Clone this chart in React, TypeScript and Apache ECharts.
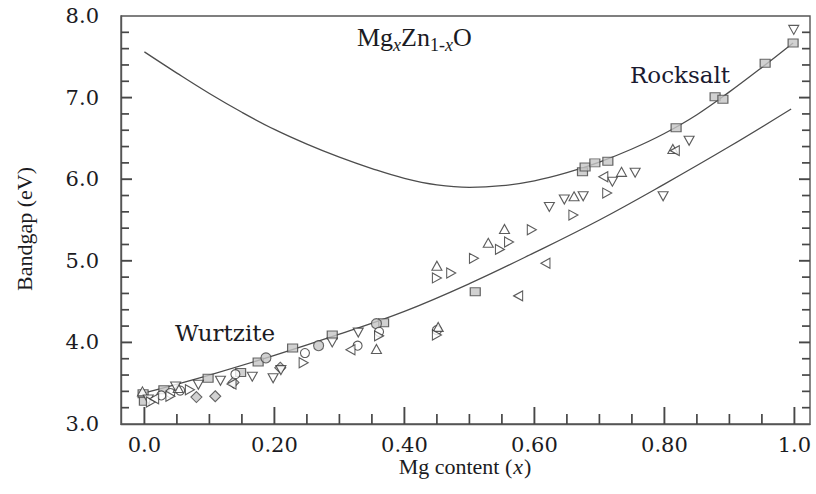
import React, { useEffect, useRef } from 'react';
import * as echarts from 'echarts';

// ---- axis ticks / labels ----
const xMajorTicks = [0, 0.2, 0.4, 0.6, 0.8, 1.0];
const xTickLabels = ['0.0', '0.20', '0.40', '0.60', '0.80', '1.0'];
const xMinorTicks = [0.05, 0.1, 0.15, 0.25, 0.3, 0.35, 0.45, 0.5, 0.55, 0.65, 0.7, 0.75, 0.85, 0.9, 0.95];
const yMajorTicks = [4, 5, 6, 7];
const yMinorTicks = [3.2, 3.4, 3.6, 3.8, 4.2, 4.4, 4.6, 4.8, 5.2, 5.4, 5.6, 5.8, 6.2, 6.4, 6.6, 6.8, 7.2, 7.4, 7.6, 7.8];
const yTickLabels = ['3.0', '4.0', '5.0', '6.0', '7.0', '8.0'];

// ---- fitted curves ----
const rocksaltCurve: [number, number][] = [
  [0, 7.56], [0.05, 7.3], [0.1, 7.05], [0.15, 6.82], [0.2, 6.61], [0.25, 6.43], [0.3, 6.27],
  [0.35, 6.13], [0.4, 6.01], [0.45, 5.93], [0.5, 5.9], [0.55, 5.92], [0.6, 5.98], [0.65, 6.08],
  [0.7, 6.21], [0.75, 6.37], [0.8, 6.56], [0.85, 6.79], [0.9, 7.07], [0.95, 7.37], [0.998, 7.67],
];
const wurtziteCurve: [number, number][] = [
  [0, 3.38], [0.1, 3.6], [0.2, 3.84], [0.3, 4.1], [0.4, 4.38], [0.5, 4.72], [0.6, 5.1],
  [0.7, 5.5], [0.8, 5.94], [0.9, 6.4], [0.995, 6.86],
];

// ---- measured points ----
const graySquares: [number, number][] = [
  [0.674, 6.09], [0.678, 6.15], [0.693, 6.2], [0.713, 6.22], [0.818, 6.63], [0.878, 7.01],
  [0.89, 6.98], [0.955, 7.42], [0.998, 7.67],
  [-0.002, 3.37], [0.0, 3.28], [0.03, 3.42], [0.098, 3.56], [0.148, 3.63], [0.175, 3.76],
  [0.228, 3.93], [0.289, 4.09], [0.368, 4.24], [0.509, 4.62],
];
const grayDiamonds: [number, number][] = [
  [0.08, 3.33], [0.109, 3.34], [0.137, 3.51], [0.209, 3.69],
];
const grayCircles: [number, number][] = [
  [0.187, 3.81], [0.268, 3.96], [0.357, 4.23],
];
const openCircles: [number, number][] = [
  [0.026, 3.35], [0.04, 3.38], [0.055, 3.41], [0.14, 3.61], [0.247, 3.87], [0.328, 3.96],
  [0.361, 4.13], [0.45, 4.15],
];
const triUp: [number, number][] = [
  [-0.003, 3.4], [0.052, 3.44], [0.357, 3.92], [0.45, 4.94], [0.529, 5.22], [0.554, 5.39],
  [0.661, 5.79], [0.734, 6.09], [0.813, 6.37], [0.452, 4.19],
];
const triDown: [number, number][] = [
  [0.006, 3.3], [0.048, 3.46], [0.083, 3.48], [0.117, 3.53], [0.166, 3.58], [0.198, 3.56],
  [0.21, 3.66], [0.289, 4.0], [0.329, 4.12], [0.623, 5.66], [0.646, 5.75], [0.675, 5.79],
  [0.72, 5.97], [0.755, 6.08], [0.798, 5.79], [0.838, 6.47], [0.999, 7.83],
];
const triRight: [number, number][] = [
  [0.01, 3.27], [0.04, 3.34], [0.07, 3.42], [0.245, 3.75], [0.361, 4.08], [0.45, 4.09],
  [0.45, 4.79], [0.472, 4.85], [0.507, 5.03], [0.547, 5.14], [0.561, 5.23], [0.596, 5.38],
  [0.66, 5.56], [0.712, 5.83],
];
const triLeft: [number, number][] = [
  [0.015, 3.31], [0.134, 3.49], [0.317, 3.91], [0.575, 4.57], [0.617, 4.97], [0.706, 6.03],
  [0.816, 6.35],
];

const X_MIN = -0.036;
const X_MAX = 1.024;
const Y_MIN = 3;
const Y_MAX = 8;

const FRAME = '#555555';
const TICK = '#474747';
const TEXT = '#1b1b22';
const SERIF = "'Liberation Serif', 'Times New Roman', serif";
const WIDE_SERIF = "'DejaVu Serif', serif";

const openStyle = { color: '#ffffff', borderColor: '#333333', borderWidth: 1.1 };
const grayStyle = { color: '#c6c6c6', borderColor: '#444444', borderWidth: 1.1 };

function scatter(name: string, data: [number, number][], symbol: string, size: any, rotate: number, style: any) {
  return {
    name,
    type: 'scatter',
    data,
    symbol,
    symbolSize: size,
    symbolRotate: rotate,
    itemStyle: style,
    z: 5,
    silent: true,
  };
}

// tick marks as a custom series: short segments placed through the axes' scales
function tickSeries(name: string, data: number[][], dx: number, dy: number, width: number) {
  return {
    name,
    type: 'custom',
    data,
    clip: false,
    silent: true,
    z: 6,
    encode: { x: 0, y: 1 },
    renderItem: (params: any, api: any) => {
      const p = api.coord([api.value(0), api.value(1)]);
      return {
        type: 'line',
        shape: { x1: p[0], y1: p[1], x2: p[0] + dx, y2: p[1] + dy },
        style: { stroke: TICK, lineWidth: width },
      };
    },
  };
}

export default function App() {
  const ref = useRef<HTMLDivElement>(null);
  useEffect(() => {
    if (!ref.current) return;
    const chart = echarts.init(ref.current, null, { renderer: 'svg' });
    const option: any = {
      animation: false,
      backgroundColor: '#ffffff',
      grid: {
        left: 121, right: 6, top: 16, bottom: 70,
        show: true, borderColor: FRAME, borderWidth: 1.4, backgroundColor: 'rgba(0,0,0,0)',
        containLabel: false, outerBoundsMode: 'none',
      },
      xAxis: [
        {
          type: 'value', min: X_MIN, max: X_MAX, position: 'bottom',
          axisLine: { show: true, onZero: false, lineStyle: { color: FRAME, width: 1.4 } },
          axisTick: { show: false },
          axisLabel: {
            show: true, customValues: xMajorTicks, margin: 10,
            fontFamily: WIDE_SERIF, fontSize: 21, color: TEXT,
            formatter: (v: number) => {
              const i = xMajorTicks.findIndex((t) => Math.abs(t - v) < 1e-6);
              return i >= 0 ? xTickLabels[i] : '';
            },
          },
          splitLine: { show: false },
        },
      ],
      yAxis: [
        {
          type: 'value', min: Y_MIN, max: Y_MAX, interval: 1, position: 'left',
          axisLine: { show: true, onZero: false, lineStyle: { color: FRAME, width: 1.4 } },
          axisTick: { show: false },
          minorTick: { show: false },
          axisLabel: {
            margin: 22, fontFamily: WIDE_SERIF, fontSize: 21, color: TEXT,
            formatter: (v: number) => yTickLabels[Math.round(v - 3)] ?? '',
          },
          splitLine: { show: false },
        },
      ],
      series: [
        {
          name: 'Rocksalt fit', type: 'line', data: rocksaltCurve, smooth: 0.4, showSymbol: false,
          lineStyle: { color: '#4d4d4d', width: 1.3 }, z: 2, silent: true,
        },
        {
          name: 'Wurtzite fit', type: 'line', data: wurtziteCurve, smooth: 0.4, showSymbol: false,
          lineStyle: { color: '#4d4d4d', width: 1.3 }, z: 2, silent: true,
        },
        tickSeries('xMajorTicks', xMajorTicks.map((v) => [v, Y_MIN]), 0, -17, 1.9),
        tickSeries('xMinorTicks', xMinorTicks.map((v) => [v, Y_MIN]), 0, -10, 1.7),
        tickSeries('yLeftMajor', yMajorTicks.map((v) => [X_MIN, v]), 11, 0, 1.9),
        tickSeries('yLeftMinor', yMinorTicks.map((v) => [X_MIN, v]), 8, 0, 1.7),
        tickSeries('yRightMajor', yMajorTicks.map((v) => [X_MAX, v]), -11, 0, 1.9),
        tickSeries('yRightMinor', yMinorTicks.map((v) => [X_MAX, v]), -8, 0, 1.7),
        scatter('squares', graySquares, 'rect', [10, 8], 0, grayStyle),
        scatter('diamonds', grayDiamonds, 'diamond', [11, 11], 0, grayStyle),
        scatter('grayCircles', grayCircles, 'circle', 10, 0, grayStyle),
        scatter('openCircles', openCircles, 'circle', 9, 0, openStyle),
        scatter('triUp', triUp, 'triangle', [10, 9], 0, openStyle),
        scatter('triDown', triDown, 'triangle', [10, 9], 180, openStyle),
        scatter('triRight', triRight, 'triangle', [10, 9], -90, openStyle),
        scatter('triLeft', triLeft, 'triangle', [10, 9], 90, openStyle),
      ],
      graphic: [
        {
          type: 'text', x: 357, y: 24, silent: true,
          style: {
            text: '{a|Mg}{si|x}{a|Zn}{s|1-}{si|x}{a|O}',
            verticalAlign: 'top',
            fill: TEXT,
            rich: {
              a: { fontFamily: SERIF, fontSize: 26, lineHeight: 30, verticalAlign: 'top', fill: TEXT },
              s: { fontFamily: SERIF, fontSize: 18, lineHeight: 15, verticalAlign: 'bottom', fill: TEXT },
              si: { fontFamily: SERIF, fontSize: 18, lineHeight: 15, fontStyle: 'italic', verticalAlign: 'bottom', fill: TEXT },
            },
          },
        },
        {
          type: 'text', x: 630, y: 75, silent: true,
          style: { text: 'Rocksalt', fontFamily: WIDE_SERIF, fontSize: 23, fill: '#1a1a30', verticalAlign: 'middle' },
        },
        {
          type: 'text', x: 175, y: 333, silent: true,
          style: { text: 'Wurtzite', fontFamily: WIDE_SERIF, fontSize: 23, fill: TEXT, verticalAlign: 'middle' },
        },
        {
          type: 'text', x: 24, y: 229, rotation: Math.PI / 2, silent: true,
          style: { text: 'Bandgap (eV)', fontFamily: SERIF, fontSize: 22, fill: TEXT, align: 'center', verticalAlign: 'middle' },
        },
        {
          type: 'text', x: 465, y: 466, silent: true,
          style: {
            text: '{a|Mg content (}{i|x}{a|)}',
            align: 'center', verticalAlign: 'middle', fill: TEXT,
            rich: {
              a: { fontFamily: SERIF, fontSize: 22, fill: TEXT },
              i: { fontFamily: SERIF, fontSize: 22, fontStyle: 'italic', fill: TEXT, padding: [0, 1, 0, 1] },
            },
          },
        },
      ],
    };
    chart.setOption(option);
    return () => chart.dispose();
  }, []);
  return (
    <div
      ref={ref}
      style={{ position: 'fixed', left: 0, top: 0, width: 816, height: 494, background: '#fff' }}
    />
  );
}
